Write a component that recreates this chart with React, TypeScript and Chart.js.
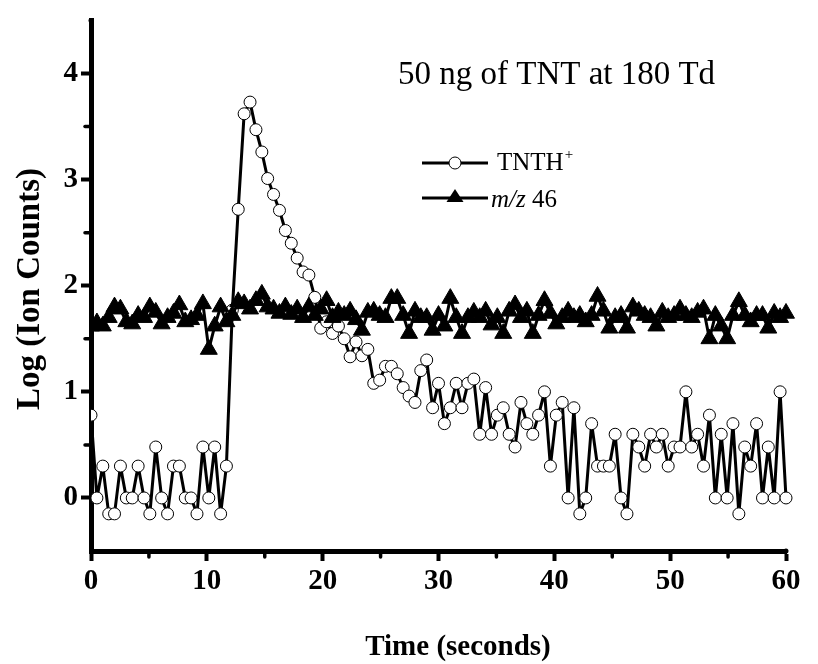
import React, { useEffect, useRef } from "react";
import { Chart, registerables } from "chart.js";

Chart.register(...registerables);

// Acquisition times (seconds)
const time = [
  0, 0.51, 1.02, 1.53, 2.03, 2.54, 3.05, 3.56, 4.07, 4.58,
  5.08, 5.59, 6.1, 6.61, 7.12, 7.63, 8.14, 8.64, 9.15, 9.66,
  10.17, 10.68, 11.19, 11.69, 12.2, 12.71, 13.22, 13.73, 14.24, 14.75,
  15.25, 15.76, 16.27, 16.78, 17.29, 17.8, 18.31, 18.81, 19.32, 19.83,
  20.34, 20.85, 21.36, 21.86, 22.37, 22.88, 23.39, 23.9, 24.41, 24.92,
  25.42, 25.93, 26.44, 26.95, 27.46, 27.97, 28.47, 28.98, 29.49, 30.0,
  30.51, 31.02, 31.53, 32.03, 32.54, 33.05, 33.56, 34.07, 34.58, 35.08,
  35.59, 36.1, 36.61, 37.12, 37.63, 38.14, 38.64, 39.15, 39.66, 40.17,
  40.68, 41.19, 41.69, 42.2, 42.71, 43.22, 43.73, 44.24, 44.75, 45.25,
  45.76, 46.27, 46.78, 47.29, 47.8, 48.31, 48.81, 49.32, 49.83, 50.34,
  50.85, 51.36, 51.86, 52.37, 52.88, 53.39, 53.9, 54.41, 54.92, 55.42,
  55.93, 56.44, 56.95, 57.46, 57.97, 58.47, 58.98, 59.49, 60.0,
];

// Log(Ion Counts) for TNTH+
const tnthValues = [
  0.78, 0, 0.3, -0.15, -0.15, 0.3, 0, 0, 0.3, 0,
  -0.15, 0.48, 0, -0.15, 0.3, 0.3, 0, 0, -0.15, 0.48,
  0, 0.48, -0.15, 0.3, 1.77, 2.72, 3.62, 3.73, 3.47, 3.26,
  3.01, 2.86, 2.71, 2.52, 2.4, 2.26, 2.13, 2.1, 1.89, 1.6,
  1.66, 1.55, 1.62, 1.5, 1.33, 1.47, 1.34, 1.4, 1.08, 1.11,
  1.24, 1.24, 1.17, 1.04, 0.96, 0.9, 1.2, 1.3, 0.85, 1.08,
  0.7, 0.85, 1.08, 0.85, 1.08, 1.12, 0.6, 1.04, 0.6, 0.78,
  0.85, 0.6, 0.48, 0.9, 0.7, 0.6, 0.78, 1.0, 0.3, 0.78,
  0.9, 0, 0.85, -0.15, 0, 0.7, 0.3, 0.3, 0.3, 0.6,
  0, -0.15, 0.6, 0.48, 0.3, 0.6, 0.48, 0.6, 0.3, 0.48,
  0.48, 1.0, 0.48, 0.6, 0.3, 0.78, 0, 0.6, 0, 0.7,
  -0.15, 0.48, 0.3, 0.7, 0, 0.48, 0, 1.0, 0,
];

// Log(Ion Counts) for m/z 46
const mz46Values = [
  1.62, 1.65, 1.62, 1.7, 1.8, 1.78, 1.66, 1.64, 1.72, 1.7,
  1.8, 1.75, 1.64, 1.7, 1.74, 1.82, 1.66, 1.68, 1.72, 1.83,
  1.4, 1.62, 1.8, 1.66, 1.72, 1.85, 1.83, 1.78, 1.86, 1.92,
  1.8, 1.78, 1.74, 1.8, 1.73, 1.78, 1.7, 1.8, 1.72, 1.78,
  1.86, 1.7, 1.75, 1.72, 1.76, 1.68, 1.58, 1.75, 1.76, 1.72,
  1.7, 1.88, 1.88, 1.72, 1.55, 1.76, 1.7, 1.7, 1.58, 1.72,
  1.62, 1.88, 1.7, 1.55, 1.7, 1.75, 1.7, 1.76, 1.63, 1.7,
  1.55, 1.76, 1.82, 1.7, 1.76, 1.55, 1.72, 1.86, 1.74, 1.64,
  1.7, 1.76, 1.7, 1.72, 1.66, 1.72, 1.9, 1.76, 1.6, 1.7,
  1.72, 1.6, 1.8, 1.76, 1.72, 1.7, 1.62, 1.75, 1.7, 1.72,
  1.78, 1.72, 1.7, 1.75, 1.78, 1.5, 1.72, 1.62, 1.5, 1.72,
  1.85, 1.72, 1.66, 1.72, 1.72, 1.6, 1.74, 1.7, 1.74,
];

const xMajorTicks = [0, 10, 20, 30, 40, 50, 60];
const xMinorTicks = [5, 15, 25, 35, 45, 55];
const yMajorTicks = [0, 1, 2, 3, 4];
const yMinorTicks = [0.5, 1.5, 2.5, 3.5];

const xTitle = "Time (seconds)";
const yTitle = "Log (Ion Counts)";
const annotation = "50 ng of TNT at 180 Td";

const SERIF = '"Liberation Serif", "Times New Roman", serif';

const decorPlugin = {
  id: "decor",
  afterDraw(chart: any) {
    const ctx = chart.ctx as CanvasRenderingContext2D;
    const xs = chart.scales.x;
    const ys = chart.scales.y;
    const area = chart.chartArea;
    ctx.save();
    // minor ticks
    ctx.strokeStyle = "#000";
    ctx.lineWidth = 3.5;
    ctx.lineCap = "round";
    xMinorTicks.forEach((v) => {
      const px = xs.getPixelForValue(v);
      ctx.beginPath();
      ctx.moveTo(px, area.bottom);
      ctx.lineTo(px, area.bottom + 6);
      ctx.stroke();
    });
    yMinorTicks.forEach((v) => {
      const py = ys.getPixelForValue(v);
      ctx.beginPath();
      ctx.moveTo(area.left, py);
      ctx.lineTo(area.left - 6, py);
      ctx.stroke();
    });
    // rounded axis ends
    ctx.fillStyle = "#000";
    ctx.beginPath();
    ctx.arc(area.left, area.top, 2.5, 0, Math.PI * 2);
    ctx.fill();
    ctx.beginPath();
    ctx.arc(area.right, area.bottom, 2.5, 0, Math.PI * 2);
    ctx.fill();

    // axis titles
    ctx.fillStyle = "#000";
    ctx.font = `bold 29px ${SERIF}`;
    ctx.textAlign = "center";
    ctx.textBaseline = "alphabetic";
    ctx.fillText(xTitle, 458, 655);

    ctx.save();
    ctx.translate(39, 289);
    ctx.rotate(-Math.PI / 2);
    ctx.font = `bold 33px ${SERIF}`;
    ctx.fillText(yTitle, 0, 0);
    ctx.restore();

    // annotation
    ctx.textAlign = "left";
    ctx.font = `33px ${SERIF}`;
    ctx.fillText(annotation, 398, 84);

    // legend
    ctx.lineCap = "butt";
    ctx.lineWidth = 2.8;
    ctx.beginPath();
    ctx.moveTo(422, 163);
    ctx.lineTo(488, 163);
    ctx.stroke();
    ctx.beginPath();
    ctx.arc(455, 163, 6, 0, Math.PI * 2);
    ctx.fillStyle = "#fff";
    ctx.fill();
    ctx.lineWidth = 1;
    ctx.stroke();
    ctx.fillStyle = "#000";

    ctx.font = `25px ${SERIF}`;
    ctx.fillText("TNTH", 497, 170);
    const w1 = ctx.measureText("TNTH").width;
    ctx.font = `15px ${SERIF}`;
    ctx.fillText("+", 497 + w1 + 1, 159);

    ctx.lineWidth = 2.8;
    ctx.beginPath();
    ctx.moveTo(422, 198);
    ctx.lineTo(488, 198);
    ctx.stroke();
    ctx.beginPath();
    ctx.moveTo(455, 189);
    ctx.lineTo(463.5, 202);
    ctx.lineTo(446.5, 202);
    ctx.closePath();
    ctx.fill();

    ctx.font = `italic 25px ${SERIF}`;
    ctx.fillText("m/z", 491, 207);
    const w2 = ctx.measureText("m/z").width;
    ctx.font = `25px ${SERIF}`;
    ctx.fillText(" 46", 491 + w2, 207);

    ctx.restore();
  },
};

export default function App() {
  const canvasRef = useRef<HTMLCanvasElement | null>(null);

  useEffect(() => {
    const canvas = canvasRef.current;
    if (!canvas) return;
    const chart = new Chart(canvas, {
      type: "line",
      data: {
        datasets: [
          {
            label: "m/z 46",
            data: time.map((t, i) => ({ x: t, y: mz46Values[i] })),
            borderColor: "#000",
            borderWidth: 3,
            borderJoinStyle: "round",
            backgroundColor: "#000",
            pointStyle: "triangle",
            pointRadius: 9.8,
            pointBackgroundColor: "#000",
            pointBorderColor: "#000",
            pointBorderWidth: 1,
            tension: 0,
            order: 1,
            clip: { left: 0, right: false, top: false, bottom: false } as any,
          },
          {
            label: "TNTH+",
            data: time.map((t, i) => ({ x: t, y: tnthValues[i] })),
            borderColor: "#000",
            borderWidth: 3,
            borderJoinStyle: "round",
            backgroundColor: "#fff",
            pointStyle: "circle",
            pointRadius: 6,
            pointBackgroundColor: "#fff",
            pointBorderColor: "#000",
            pointBorderWidth: 1,
            tension: 0,
            order: 2,
            clip: { left: 0, right: false, top: false, bottom: false } as any,
          },
        ],
      },
      options: {
        responsive: false,
        animation: false,
        devicePixelRatio: 1,
        events: [],
        layout: { padding: { left: 0, top: 16, right: 32, bottom: 0 } },
        plugins: {
          legend: { display: false },
          tooltip: { enabled: false },
        },
        scales: {
          x: {
            type: "linear",
            min: 0,
            max: 60,
            afterBuildTicks: (scale: any) => {
              scale.ticks = xMajorTicks.map((v) => ({ value: v }));
            },
            afterFit: (scale: any) => {
              scale.height = 113;
            },
            border: { display: true, color: "#000", width: 5 },
            grid: {
              display: true,
              drawOnChartArea: false,
              drawTicks: true,
              tickLength: 10,
              tickWidth: 4,
              tickColor: "#000",
            },
            ticks: {
              autoSkip: false,
              maxRotation: 0,
              padding: 3,
              color: "#000",
              font: { family: SERIF, size: 29, weight: "bold" },
              callback: (v: any) => String(v),
            },
          },
          y: {
            type: "linear",
            min: -0.5,
            max: 4.5,
            afterBuildTicks: (scale: any) => {
              scale.ticks = yMajorTicks.map((v) => ({ value: v }));
            },
            afterFit: (scale: any) => {
              scale.width = 91;
            },
            border: { display: true, color: "#000", width: 5 },
            grid: {
              display: true,
              drawOnChartArea: false,
              drawTicks: true,
              tickLength: 10,
              tickWidth: 4,
              tickColor: "#000",
            },
            ticks: {
              autoSkip: false,
              padding: 3,
              color: "#000",
              font: { family: SERIF, size: 29, weight: "bold" },
              callback: (v: any) => String(v),
            },
          },
        },
      },
      plugins: [decorPlugin],
    });
    return () => chart.destroy();
  }, []);

  return (
    <div style={{ position: "absolute", left: 0, top: 0, width: 818, height: 664, background: "#fff" }}>
      <canvas ref={canvasRef} width={818} height={664} style={{ display: "block", width: 818, height: 664 }} />
    </div>
  );
}
